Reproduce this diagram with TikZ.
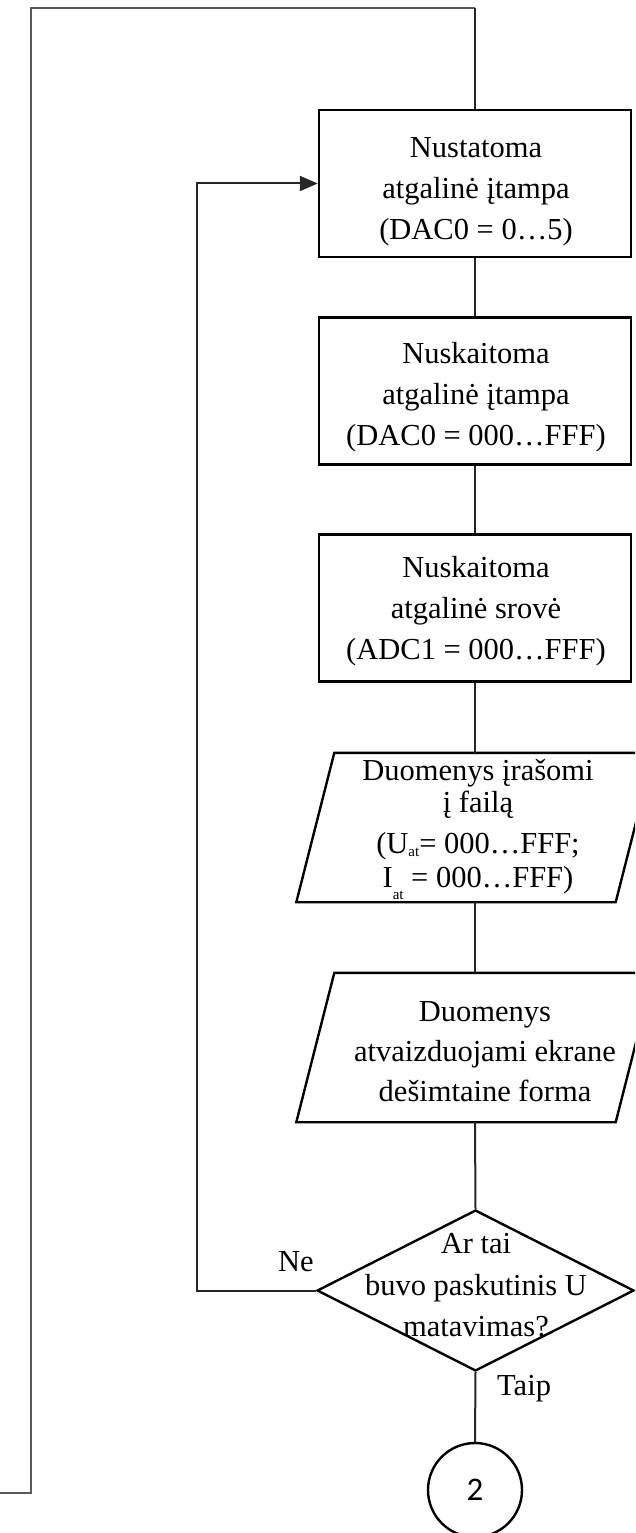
\documentclass[tikz,border=0pt]{standalone}
\usepackage{fontspec}
\setmainfont{Liberation Serif}
\newfontfamily\digitfont{Carlito}
\usetikzlibrary{shapes.geometric,arrows.meta}

% lowered "at" subscript used in the data line
\newcommand\subat[1]{\raisebox{-#1}{\fontsize{15}{15}\selectfont at}}

\begin{document}
\begin{tikzpicture}[x=1pt,y=-1pt,
  shape line/.style={draw=black, line width=2.4pt},
  procbox/.style={shape line, rectangle, minimum width=312pt, minimum height=147pt, inner sep=0pt},
  iobox/.style={rectangle, minimum width=319pt, minimum height=149pt, inner sep=0pt},
  decision/.style={shape line, diamond, minimum width=317pt, minimum height=161pt, inner sep=0pt},
  connector/.style={shape line, circle, minimum size=94pt, inner sep=0pt,
    font=\digitfont\fontsize{33}{33}\selectfont},
  txt/.style={align=center, inner sep=0pt, font=\fontsize{30.5}{41}\selectfont},
  flow/.style={draw=black!85, line width=2pt},
  outer/.style={draw=black!65, line width=2.8pt},
  lbl/.style={inner sep=0pt, font=\fontsize{30.5}{36}\selectfont, anchor=base west}
]
\useasboundingbox (0,0) rectangle (635,1533);
\clip (0,0) rectangle (635,1533);

% shapes
\node[procbox] (b1) at (475,183.5) {};
\node[procbox] (b2) at (475,391) {};
\node[procbox] (b3) at (475,608) {};
\node[iobox] (p1) at (475,827.5) {};
\node[iobox] (p2) at (475,1047.5) {};
\node[decision] (d) at (475.5,1290.5) {};
\node[connector] (c) at (475,1490) {2};

% slanted input/output boxes
\foreach \p in {p1,p2}
  \draw[shape line] ([xshift=-19pt]\p.south west) -- ([xshift=-19pt]\p.south east)
    -- ([xshift=19pt]\p.north east) -- ([xshift=19pt]\p.north west) -- cycle;

% texts
\node[txt] (t1) at (476,192) {Nustatoma\\atgalinė įtampa\\(DAC0 = 0…5)};
\node[txt] (t2) at (476,397.5) {Nuskaitoma\\atgalinė įtampa\\(DAC0 = 000…FFF)};
\node[txt] (t3) at (476,611.5) {Nuskaitoma\\atgalinė srovė\\(ADC1 = 000…FFF)};
\node[txt, font=\fontsize{30.5}{34}\selectfont] (t4) at (478,829.8)
  {Duomenys įrašomi\\[-2pt]į failą\\[7pt](U\subat{3pt}= 000…FFF;\\I\subat{12pt} = 000…FFF)};
\node[txt, font=\fontsize{30.5}{40}\selectfont] (t5) at (485,1052)
  {Duomenys\\atvaizduojami ekrane\\dešimtaine forma};
\node[txt, font=\fontsize{30.5}{41.5}\selectfont] (t6) at (476,1285.3)
  {Ar tai\\buvo paskutinis U\\matavimas?};
\node[lbl] (ne) at (278,1271) {Ne};
\node[lbl] (taip) at (497,1395) {Taip};

% main flow
\draw[flow] (b1.south) -- (b2.north);
\draw[flow] (b2.south) -- (b3.north);
\draw[flow] (b3.south) -- (p1.north);
\draw[flow] (p1.south) -- (p2.north);
\draw[flow] (p2.south) -- (d.north);
\draw[flow] (d.south) -- (c.north);

% "Ne" branch back to the first box
\coordinate (ret) at (197,0);
\draw[flow, -{Triangle[length=18pt,width=15pt]}] (d.west) -- (d.west -| ret) |- (b1.west);

% incoming line from the left edge
\coordinate (entry) at (0,1493);
\coordinate (corner) at (31,8);
\coordinate (topright) at (475,8);
\draw[outer] (entry) -| (corner) -- (topright);
\draw[flow] (topright) -- (b1.north);
\end{tikzpicture}
\end{document}
